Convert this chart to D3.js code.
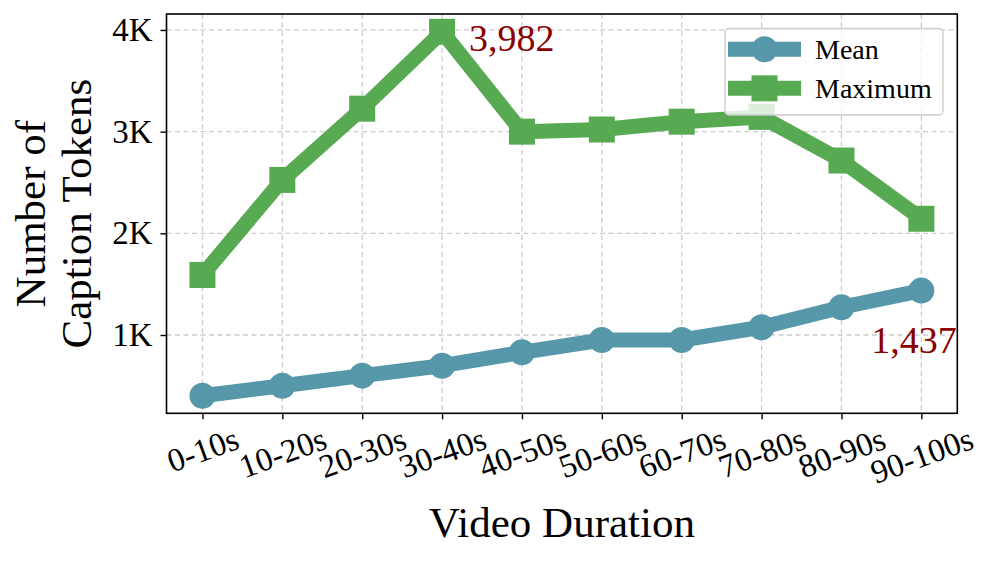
<!DOCTYPE html>
<html>
<head>
<meta charset="utf-8">
<script src="https://cdn.jsdelivr.net/npm/d3@7"></script>
<style>
  html, body { margin: 0; padding: 0; background: #fff; }
  svg { display: block; }
  text { font-family: "Liberation Serif", "Times New Roman", Times, serif; }
</style>
</head>
<body>
<svg id="chart" width="996" height="561"></svg>
<script>
const categories = ["0-10s", "10-20s", "20-30s", "30-40s", "40-50s", "50-60s", "60-70s", "70-80s", "80-90s", "90-100s"];
const meanValues = [403, 501, 600, 698, 830, 951, 951, 1076, 1273, 1437];
const maxValues = [1590, 2525, 3226, 3982, 3000, 3021, 3098, 3145, 2716, 2143];
const yTickValues = [1000, 2000, 3000, 4000];
const yTickLabels = ["1K", "2K", "3K", "4K"];
const seriesNames = ["Mean", "Maximum"];
const annotations = [
  { series: "Maximum", index: 3, text: "3,982" },
  { series: "Mean", index: 9, text: "1,437" }
];

const W = 996, H = 561;
const plot = { left: 166.5, right: 957.3, top: 14, bottom: 413.3 };
const colors = { Mean: "#5698aa", Maximum: "#57aa52" };
const annotColor = "#8b0000";

const svg = d3.select("#chart");
svg.append("rect").attr("width", W).attr("height", H).attr("fill", "#fff");

const x = d3.scaleLinear().domain([-0.45, 9.45]).range([plot.left, plot.right]);
const y = d3.scaleLinear().domain([230, 4157]).range([plot.bottom, plot.top]);

// grid
const grid = svg.append("g");
categories.forEach((c, i) => {
  grid.append("line")
    .attr("x1", x(i)).attr("x2", x(i))
    .attr("y1", plot.top).attr("y2", plot.bottom)
    .attr("stroke", "#cccccc").attr("stroke-width", 1.3)
    .attr("stroke-dasharray", "5,3.5");
});
yTickValues.forEach(v => {
  grid.append("line")
    .attr("x1", plot.left).attr("x2", plot.right)
    .attr("y1", y(v)).attr("y2", y(v))
    .attr("stroke", "#cccccc").attr("stroke-width", 1.3)
    .attr("stroke-dasharray", "5,3.5");
});

// lines
const lineGen = d3.line().x((d, i) => x(i)).y(d => y(d));
const seriesData = { Mean: meanValues, Maximum: maxValues };
const markerSize = 26;

function drawMarker(g, name, cx, cy) {
  if (name === "Mean") {
    g.append("circle").attr("cx", cx).attr("cy", cy).attr("r", markerSize / 2)
      .attr("fill", colors[name]);
  } else {
    g.append("rect").attr("x", cx - markerSize / 2).attr("y", cy - markerSize / 2)
      .attr("width", markerSize).attr("height", markerSize)
      .attr("fill", colors[name]);
  }
}

const dataG = svg.append("g");
seriesNames.forEach(name => {
  const vals = seriesData[name];
  dataG.append("path")
    .attr("d", lineGen(vals))
    .attr("fill", "none")
    .attr("stroke", colors[name])
    .attr("stroke-width", 15)
    .attr("stroke-linejoin", "round");
  vals.forEach((v, i) => drawMarker(dataG, name, x(i), y(v)));
});

// frame
svg.append("rect")
  .attr("x", plot.left).attr("y", plot.top)
  .attr("width", plot.right - plot.left).attr("height", plot.bottom - plot.top)
  .attr("fill", "none").attr("stroke", "#000").attr("stroke-width", 1.6);

// y axis
const yAxis = d3.axisLeft(y).tickValues(yTickValues)
  .tickFormat((d, i) => yTickLabels[i]).tickSize(6).tickPadding(8);
const yg = svg.append("g").attr("transform", `translate(${plot.left},0)`).call(yAxis);
yg.select(".domain").remove();
yg.selectAll(".tick line").attr("stroke", "#000").attr("stroke-width", 1.4);
yg.selectAll(".tick text").attr("font-size", 33).attr("fill", "#000")
  .attr("font-family", '"Liberation Serif", "Times New Roman", serif');

// x axis
const xAxis = d3.axisBottom(x).tickValues(d3.range(categories.length))
  .tickFormat(i => categories[i]).tickSize(6).tickPadding(0);
const xg = svg.append("g").attr("transform", `translate(0,${plot.bottom})`).call(xAxis);
xg.select(".domain").remove();
xg.selectAll(".tick line").attr("stroke", "#000").attr("stroke-width", 1.4);
const angle = 20;
const rad = angle * Math.PI / 180;
xg.selectAll(".tick text")
  .attr("font-size", 33).attr("fill", "#000")
  .attr("font-family", '"Liberation Serif", "Times New Roman", serif')
  .attr("text-anchor", "middle")
  .attr("dy", null)
  .attr("y", 0)
  .attr("dominant-baseline", "central")
  .each(function () {
    const w = this.getComputedTextLength();
    const h = 30;
    const bh = w * Math.sin(rad) + h * Math.cos(rad);
    const topY = 10;
    const cy = topY + bh / 2;
    d3.select(this).attr("transform", `translate(0,${cy}) rotate(${-angle})`);
  });

// axis labels
svg.append("text")
  .attr("x", (plot.left + plot.right) / 2).attr("y", 537)
  .attr("text-anchor", "middle").attr("font-size", 43).attr("fill", "#000")
  .text("Video Duration");

const ylab = svg.append("text")
  .attr("transform", `translate(0,${(plot.top + plot.bottom) / 2}) rotate(-90)`)
  .attr("text-anchor", "middle").attr("font-size", 43).attr("fill", "#000");
ylab.append("tspan").attr("x", 0).attr("y", 45).text("Number of");
ylab.append("tspan").attr("x", 0).attr("y", 91).text("Caption Tokens");

// annotations
const annotOffsets = { "3,982": { dx: 27, dy: 19, anchor: "start" }, "1,437": { dx: -50, dy: 62, anchor: "start" } };
annotations.forEach(a => {
  const vals = seriesData[a.series];
  const o = annotOffsets[a.text];
  svg.append("text")
    .attr("x", x(a.index) + o.dx).attr("y", y(vals[a.index]) + o.dy)
    .attr("text-anchor", o.anchor).attr("font-size", 38).attr("fill", annotColor)
    .text(a.text);
});

// legend
const lg = svg.append("g");
lg.append("rect")
  .attr("x", 725).attr("y", 28.5).attr("width", 218).attr("height", 86.5)
  .attr("rx", 4).attr("ry", 4)
  .attr("fill", "#fff").attr("fill-opacity", 0.8)
  .attr("stroke", "#cccccc").attr("stroke-width", 1.4);
const legendRows = [49.3, 88.3];
seriesNames.forEach((name, i) => {
  const ly = legendRows[i];
  lg.append("line").attr("x1", 728).attr("x2", 801).attr("y1", ly).attr("y2", ly)
    .attr("stroke", colors[name]).attr("stroke-width", 15);
  drawMarker(lg, name, 764.5, ly);
  lg.append("text").attr("x", 815).attr("y", ly + 9.5)
    .attr("font-size", 28).attr("fill", "#000").text(name);
});
</script>
</body>
</html>
